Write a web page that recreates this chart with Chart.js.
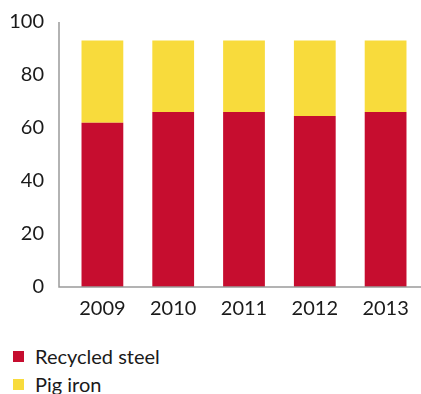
<!DOCTYPE html>
<html lang="en">
<head>
    <meta charset="UTF-8" />
    <title>Recycled steel vs pig iron</title>
    <script src="https://cdn.jsdelivr.net/npm/chart.js"></script>
    <style>
        body { margin: 0; background: #fff; font-family: Lato, sans-serif; color: #1a1a1a; }
        .wrap { position: relative; width: 421px; height: 331px; }
        .legend { margin: 11px 0 0 13px; }
        .legend div { display: flex; align-items: center; height: 28px; font-size: 20px; }
        .legend span { display: inline-block; width: 11px; height: 11px; margin-right: 11px; }
    </style>
</head>
<body>
    <div class="wrap"><canvas id="chart"></canvas></div>
    <div class="legend" id="legend"></div>

    <script>
        const years = ['2009', '2010', '2011', '2012', '2013'];
        const recycled = [62, 66, 66, 64.5, 66];
        const pigIron = [31, 27, 27, 28.5, 27];
        const yTicks = [0, 20, 40, 60, 80, 100];

        const red = '#c60d2f';
        const yellow = '#f8db3c';

        // L-shaped axis that sits a little left of the bars
        const axisLines = {
            id: 'axisLines',
            afterDraw(chart) {
                const { ctx, chartArea, scales } = chart;
                const x0 = chartArea.left - 8;
                const yTop = scales.y.getPixelForValue(100);
                const yBot = scales.y.getPixelForValue(0);
                ctx.save();
                ctx.strokeStyle = '#9a9a9a';
                ctx.lineWidth = 1.5;
                ctx.beginPath();
                ctx.moveTo(x0, yTop);
                ctx.lineTo(x0, yBot);
                ctx.lineTo(chartArea.right, yBot);
                ctx.stroke();
                ctx.restore();
            }
        };

        new Chart(document.getElementById('chart'), {
            type: 'bar',
            data: {
                labels: years,
                datasets: [
                    { label: 'Recycled steel', data: recycled, backgroundColor: red },
                    { label: 'Pig iron', data: pigIron, backgroundColor: yellow }
                ]
            },
            options: {
                responsive: true,
                maintainAspectRatio: false,
                animation: false,
                layout: { padding: 0 },
                datasets: { bar: { categoryPercentage: 1, barPercentage: 0.59 } },
                plugins: { legend: { display: false }, tooltip: { enabled: false } },
                scales: {
                    x: {
                        stacked: true,
                        grid: { display: false, drawTicks: false },
                        border: { display: false },
                        ticks: { color: '#1a1a1a', font: { family: 'Lato', size: 20 }, padding: 10 }
                    },
                    y: {
                        stacked: true,
                        min: 0,
                        max: 100,
                        afterFit: (s) => { s.width = 67; s.paddingTop = 22; },
                        afterBuildTicks: (s) => { s.ticks = yTicks.map(v => ({ value: v })); },
                        grid: { display: false, drawTicks: false },
                        border: { display: false },
                        ticks: { color: '#1a1a1a', font: { family: 'Lato', size: 20 }, padding: 23 }
                    }
                }
            },
            plugins: [axisLines]
        });

        const legend = document.getElementById('legend');
        [['Recycled steel', red], ['Pig iron', yellow]].forEach(([name, col]) => {
            const row = document.createElement('div');
            row.innerHTML = `<span style="background:${col}"></span>${name}`;
            legend.appendChild(row);
        });
    </script>
</body>
</html>
